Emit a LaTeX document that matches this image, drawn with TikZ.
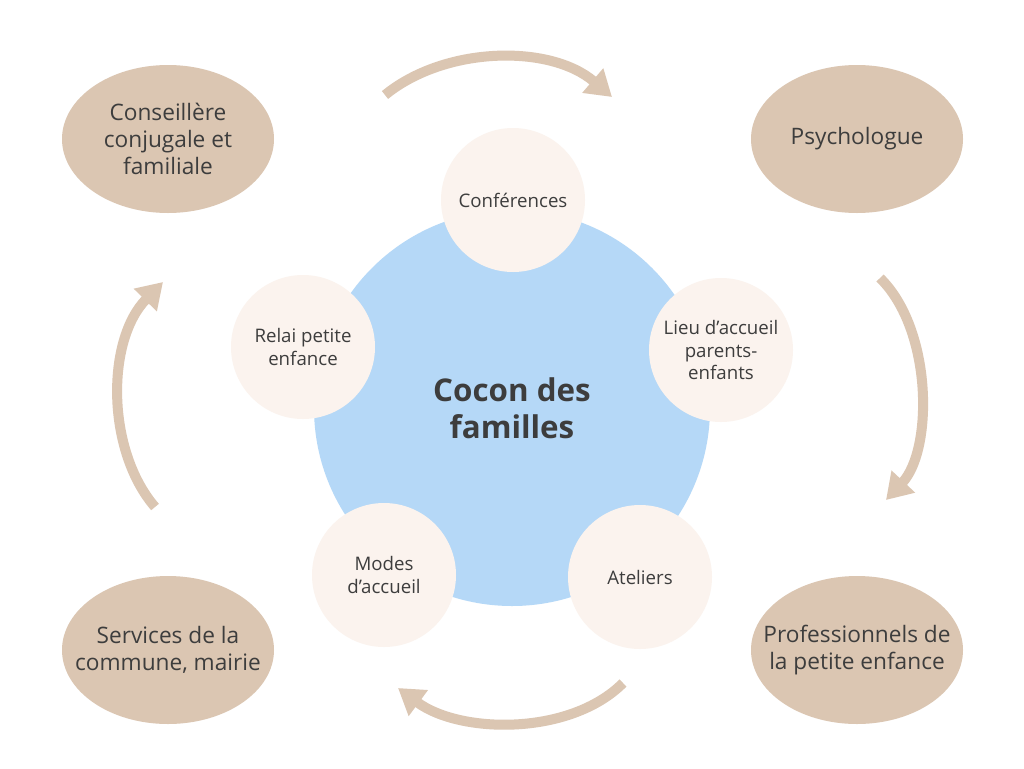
\documentclass[tikz,border=0pt]{standalone}
\usepackage{fontspec}
\setmainfont{Open Sans}
\usetikzlibrary{arrows.meta,shapes.geometric}
\definecolor{tan}{HTML}{DBC6B2}
\definecolor{cream}{HTML}{FBF3EE}
\definecolor{sky}{HTML}{B5D8F7}
\definecolor{ink}{HTML}{3D3D3D}
\tikzset{
  outer/.style={ellipse, fill=tan, minimum width=159pt, minimum height=111pt, inner xsep=-30pt, inner ysep=-10pt, align=center, text=ink, font=\fontsize{17}{20.5}\selectfont},
  inner/.style={circle, fill=cream, minimum size=108pt, inner sep=-10pt, align=center, text=ink, font=\fontsize{14}{17}\selectfont},
  hub/.style={circle, fill=sky, minimum size=297pt, inner sep=0pt, align=center, text=ink, font=\fontsize{23.5}{28}\selectfont\bfseries},
  flow/.style={draw=tan, line width=7.5pt, -{Triangle[length=19pt,width=23pt]}}
}
\begin{document}
\begin{tikzpicture}[x=0.75pt,y=-0.75pt]
\useasboundingbox[fill=white] (0,0) rectangle (1024,768);
\node[hub] (hub) at (512,408) {Cocon des\\familles};
\node[inner] (conf) at (513,200) {Conférences};
\node[inner] (lieu) at (721,350) {Lieu d’accueil\\parents-\\enfants};
\node[inner] (atel) at (640,577) {Ateliers};
\node[inner] (modes) at (384,575) {Modes\\d’accueil};
\node[inner] (relai) at (303,347) {Relai petite\\enfance};
\node[outer] (cons) at (168,139) {Conseillère\\conjugale et\\familiale};
\node[outer] (psy) at (857,139) {Psychologue};
\node[outer] (pro) at (857,650) {Professionnels de\\la petite enfance};
\node[outer] (serv) at (168,650) {Services de la\\commune, mairie};
\coordinate (a1) at (385,95);
\coordinate (b1) at (612,97);
\coordinate (a2) at (880,278);
\coordinate (b2) at (886,500);
\coordinate (a3) at (623,683);
\coordinate (b3) at (398,688);
\coordinate (a4) at (155,507);
\coordinate (b4) at (163,282);
\draw[flow] (a1) .. controls (445,46) and (550,44) .. (b1);
\draw[flow] (a2) .. controls (933,330) and (933,450) .. (b2);
\draw[flow] (a3) .. controls (570,736) and (460,734) .. (b3);
\draw[flow] (a4) .. controls (106,450) and (106,340) .. (b4);
\end{tikzpicture}
\end{document}
